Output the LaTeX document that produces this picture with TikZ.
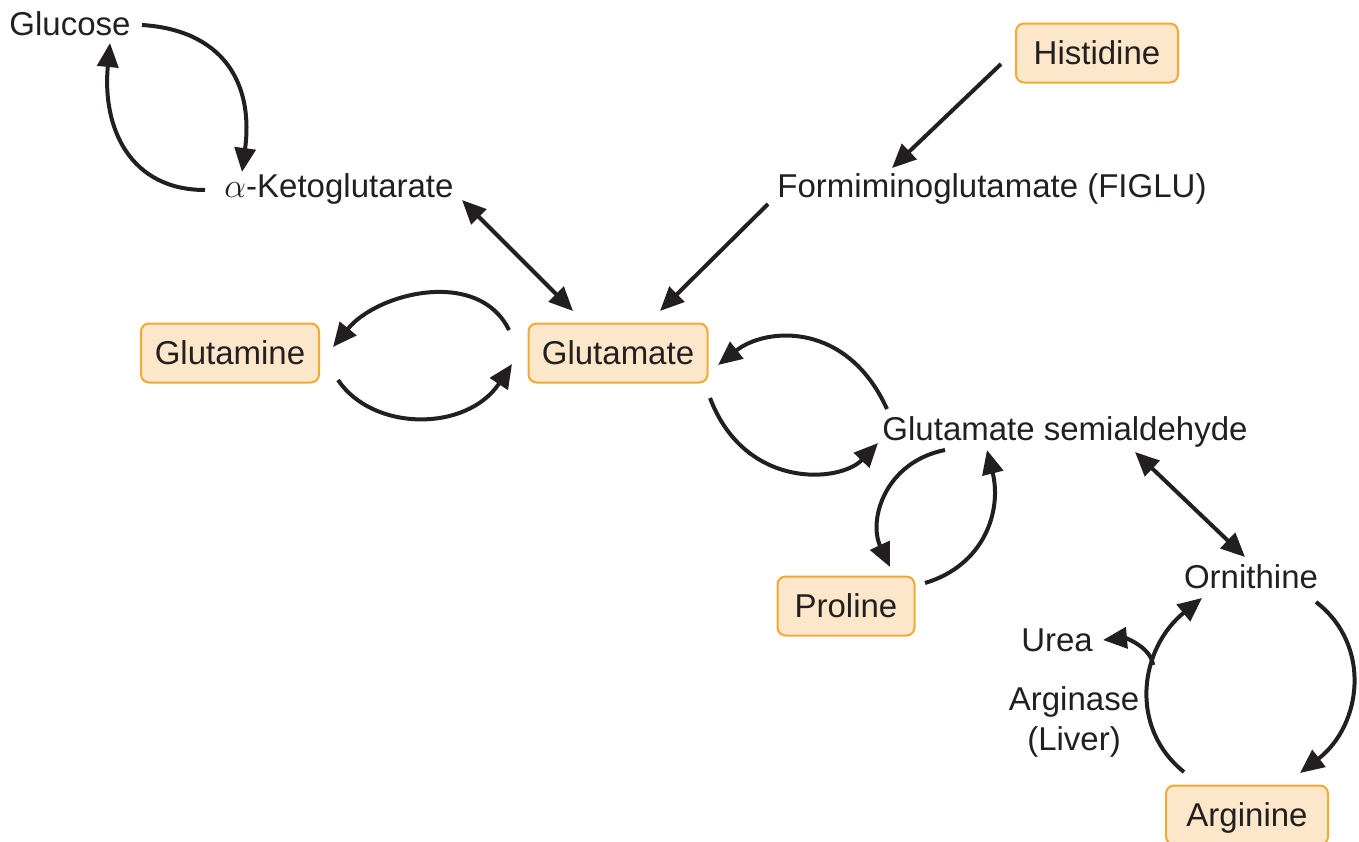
\documentclass[tikz,border=0pt]{standalone}
\usepackage{fontspec}
\setmainfont{Liberation Sans}
\usetikzlibrary{arrows.meta,calc}
\definecolor{boxfill}{HTML}{FCE7CA}
\definecolor{boxline}{HTML}{F0A935}
\definecolor{ink}{HTML}{231F20}

\begin{document}
\begin{tikzpicture}[x=0.5pt,y=-0.5pt,
  every node/.style={font=\fontsize{16.5}{20}\selectfont, text=ink},
  txt/.style={inner sep=0pt, text height=11.8pt, text depth=3.5pt, anchor=base},
  amino/.style={draw=boxline, fill=boxfill, line width=1pt, rounded corners=4pt,
    minimum height=29.5pt, text height=11.8pt, text depth=0pt, inner sep=0pt,
    minimum width=#1},
  tip/.tip={Triangle[length=12pt,width=10.5pt]},
  arr/.style={draw=ink, line width=2pt, -tip},
  biarr/.style={draw=ink, line width=2pt, tip-tip}
]
\useasboundingbox (0,0) rectangle (1359,841);

% metabolites
\node[txt] (glc) at (70,35) {Glucose};
\node[txt] (akg) at (339,197) {$\alpha$-Ketoglutarate};
\node[amino=81pt] (his) at (1097,53) {Histidine};
\node[txt] (figlu) at (992,197) {Formiminoglutamate (FIGLU)};
\node[amino=89pt] (gln) at (230,353) {Glutamine};
\node[amino=89.5pt] (glu) at (618,353) {Glutamate};
\node[txt] (gsa) at (1065,440) {Glutamate semialdehyde};
\node[amino=68.5pt] (pro) at (846,606) {Proline};
\node[txt] (orn) at (1251,588) {Ornithine};
\node[txt] (urea) at (1057,651) {Urea};
\node[txt] (ase1) at (1074,710) {Arginase};
\node[txt] (ase2) at (1074,750) {(Liver)};
\node[amino=81pt] (arg) at (1247,815) {Arginine};

% glucose / alpha-ketoglutarate cycle
\draw[arr] ($(glc.base)+(72,-10)$) .. controls +(80,5) and +(12,-90) .. ($(akg.base)+(-97,-25)$);
\draw[arr] ($(akg.base)+(-134,-7)$) .. controls +(-75,0) and +(-8,85) .. ($(glc.base)+(40,8)$);

% straight links into glutamate
\draw[biarr] ($(akg.base)+(123,3)$) -- ($(glu)+(-45,-42)$);
\draw[arr] ($(his)+(-96,11)$) -- ($(figlu.base)+(-100,-29)$);
\draw[arr] ($(figlu.base)+(-224,7)$) -- ($(glu)+(42,-42)$);

% glutamate <-> glutamine
\draw[arr] ($(glu)+(-109,-23)$) .. controls +(-30,-62) and +(45,-55) .. ($(gln)+(103,-6)$);
\draw[arr] ($(gln)+(108,27)$) .. controls +(35,52) and +(-45,68) .. ($(glu)+(-106,11)$);

% glutamate <-> glutamate semialdehyde
\draw[arr] ($(gsa.base)+(-178,-31)$) .. controls +(-40,-88) and +(48,-38) .. ($(glu)+(100,12)$);
\draw[arr] ($(glu)+(92,45)$) .. controls +(35,92) and +(-38,40) .. ($(gsa.base)+(-187,3)$);

% glutamate semialdehyde <-> proline
\draw[arr] ($(gsa.base)+(-120,10)$) .. controls +(-60,12) and +(-22,-47) .. ($(pro)+(44,-39)$);
\draw[arr] ($(pro)+(79,-23)$) .. controls +(60,-18) and +(15,60) .. ($(gsa.base)+(-78,10)$);

% glutamate semialdehyde <-> ornithine
\draw[biarr] ($(gsa.base)+(70,12)$) -- ($(orn.base)+(-6,-31)$);

% ornithine / arginine cycle with urea release
\draw[arr] ($(orn.base)+(65,14)$) .. controls +(56,43) and +(62,-48) .. ($(arg)+(53,-42)$);
\draw[arr] ($(arg)+(-63,-43)$) .. controls +(-56,-45) and +(-62,50) .. ($(orn.base)+(-49,10)$);
\draw[arr] ($(urea.base)+(96,14)$) .. controls +(-2,-18) and +(22,-2) .. ($(urea.base)+(46,-11)$);

\end{tikzpicture}
\end{document}
